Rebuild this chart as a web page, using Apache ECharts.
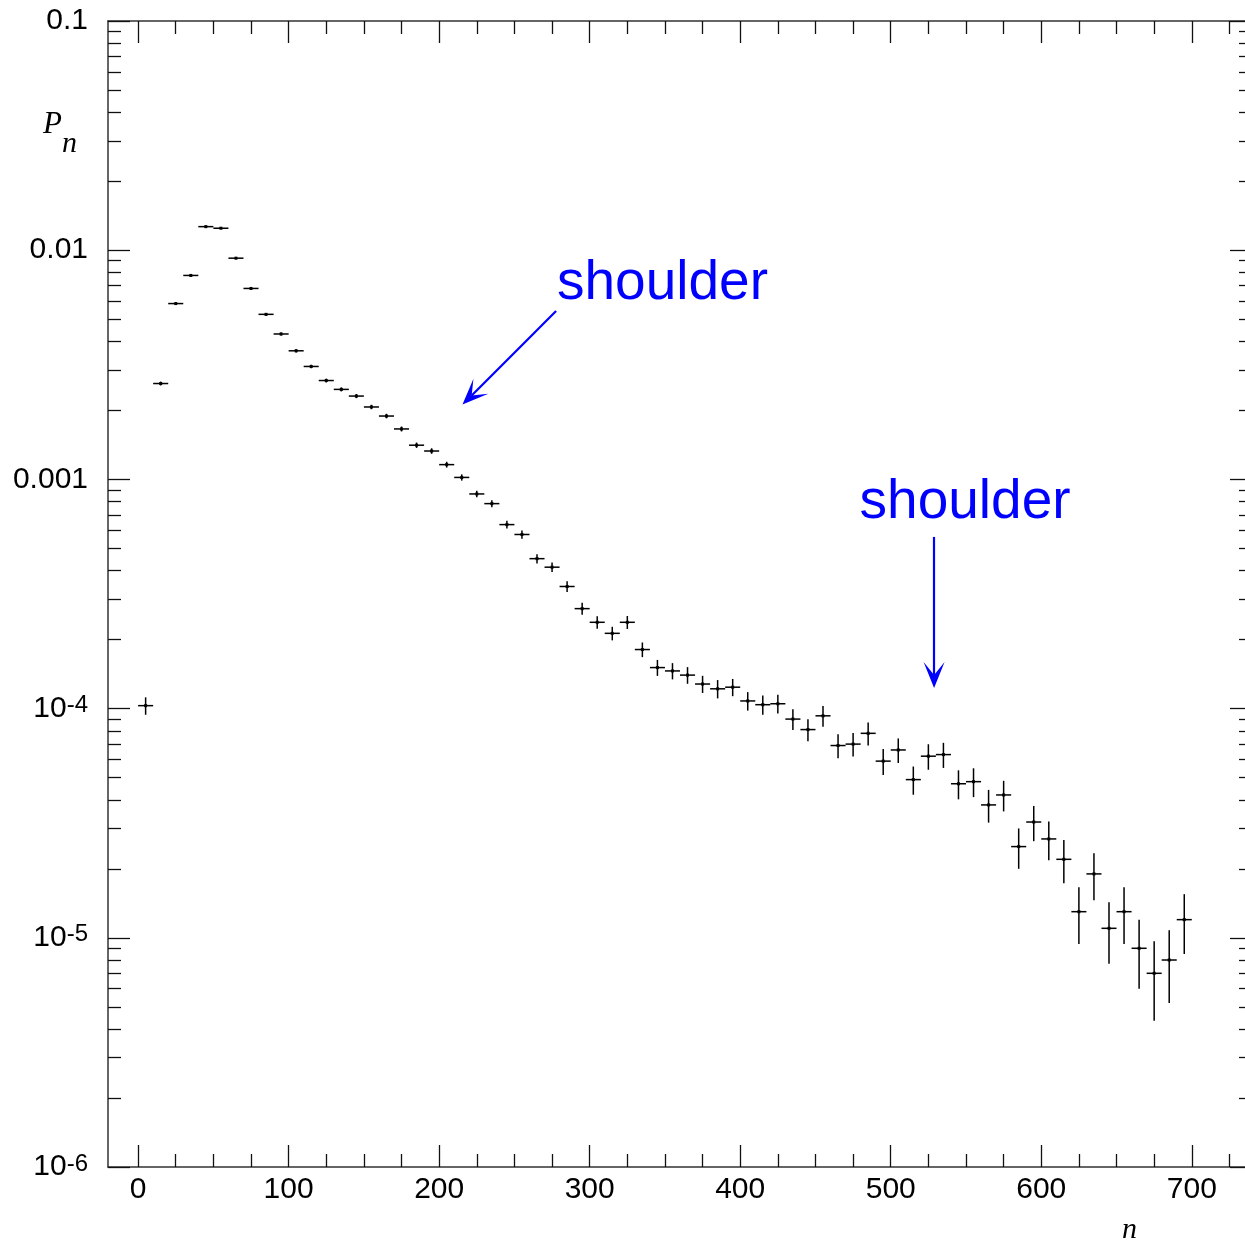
<!DOCTYPE html>
<html>
<head>
<meta charset="utf-8">
<script src="https://cdn.jsdelivr.net/npm/echarts@6/dist/echarts.min.js"></script>
<style>
  html, body { margin: 0; padding: 0; background: #fff; }
  #chart { width: 1245px; height: 1242px; }
</style>
</head>
<body>
<div id="chart"></div>
<script>
// Multiplicity distribution P_n in bins of width 10 (bin centres n).
const binCentres = [
  5, 15, 25, 35, 45, 55, 65, 75, 85, 95,
  105, 115, 125, 135, 145, 155, 165, 175, 185, 195,
  205, 215, 225, 235, 245, 255, 265, 275, 285, 295,
  305, 315, 325, 335, 345, 355, 365, 375, 385, 395,
  405, 415, 425, 435, 445, 455, 465, 475, 485, 495,
  505, 515, 525, 535, 545, 555, 565, 575, 585, 595,
  605, 615, 625, 635, 645, 655, 665, 675, 685, 695
];
const binHalfWidth = 5;

const probability = [
  1.03e-4, 2.62e-3, 5.85e-3, 7.76e-3, 1.267e-2, 1.247e-2, 9.23e-3, 6.81e-3, 5.25e-3, 4.31e-3,
  3.64e-3, 3.11e-3, 2.70e-3, 2.47e-3, 2.31e-3, 2.07e-3, 1.89e-3, 1.66e-3, 1.41e-3, 1.33e-3,
  1.16e-3, 1.02e-3, 8.64e-4, 7.84e-4, 6.35e-4, 5.75e-4, 4.51e-4, 4.14e-4, 3.41e-4, 2.73e-4,
  2.38e-4, 2.13e-4, 2.38e-4, 1.81e-4, 1.51e-4, 1.46e-4, 1.40e-4, 1.28e-4, 1.22e-4, 1.24e-4,
  1.08e-4, 1.04e-4, 1.05e-4, 9.0e-5, 8.1e-5, 9.3e-5, 6.9e-5, 7.0e-5, 7.8e-5, 5.9e-5,
  6.6e-5, 4.9e-5, 6.2e-5, 6.3e-5, 4.7e-5, 4.8e-5, 3.8e-5, 4.2e-5, 2.5e-5, 3.2e-5,
  2.7e-5, 2.2e-5, 1.3e-5, 1.9e-5, 1.1e-5, 1.3e-5, 9.0e-6, 7.0e-6, 8.0e-6, 1.2e-5
];

const probabilityError = [
  9.0e-6, 5.1e-5, 7.6e-5, 8.8e-5, 1.1e-4, 1.1e-4, 9.6e-5, 8.3e-5, 7.2e-5, 6.6e-5,
  6.0e-5, 5.6e-5, 5.2e-5, 5.0e-5, 4.8e-5, 4.6e-5, 4.3e-5, 4.1e-5, 3.8e-5, 3.7e-5,
  3.4e-5, 3.2e-5, 2.9e-5, 2.8e-5, 2.5e-5, 2.4e-5, 2.1e-5, 2.0e-5, 1.8e-5, 1.65e-5,
  1.5e-5, 1.45e-5, 1.55e-5, 1.33e-5, 1.21e-5, 1.19e-5, 1.17e-5, 1.1e-5, 1.12e-5, 1.07e-5,
  1.0e-5, 1.0e-5, 9.8e-6, 9.4e-6, 8.9e-6, 9.7e-6, 8.3e-6, 8.2e-6, 8.9e-6, 7.7e-6,
  8.1e-6, 6.9e-6, 7.9e-6, 7.9e-6, 6.8e-6, 6.9e-6, 6.2e-6, 6.4e-6, 5.0e-6, 5.6e-6,
  5.2e-6, 4.7e-6, 3.6e-6, 4.4e-6, 3.3e-6, 3.6e-6, 3.0e-6, 2.65e-6, 2.8e-6, 3.5e-6
];

// Axis ticks
const xMajorTicks = [0, 100, 200, 300, 400, 500, 600, 700];
const xMinorTicks = [
  25, 50, 75, 125, 150, 175, 225, 250, 275, 325, 350, 375,
  425, 450, 475, 525, 550, 575, 625, 650, 675, 725
];
const yMajorTicks = [1e-6, 1e-5, 1e-4, 1e-3, 1e-2, 1e-1];
const yMinorTicks = [
  2e-6, 3e-6, 4e-6, 5e-6, 6e-6, 7e-6, 8e-6, 9e-6,
  2e-5, 3e-5, 4e-5, 5e-5, 6e-5, 7e-5, 8e-5, 9e-5,
  2e-4, 3e-4, 4e-4, 5e-4, 6e-4, 7e-4, 8e-4, 9e-4,
  2e-3, 3e-3, 4e-3, 5e-3, 6e-3, 7e-3, 8e-3, 9e-3,
  2e-2, 3e-2, 4e-2, 5e-2, 6e-2, 7e-2, 8e-2, 9e-2
];

// Annotations ("shoulder" labels and the arrows pointing at the shoulders), in data coordinates
const shoulderLabels = [
  { text: 'shoulder', at: [278.3, 7.10e-3] },
  { text: 'shoulder', at: [479.3, 7.87e-4] }
];
const shoulderArrows = [
  { from: [277.7, 5.43e-3], to: [221.6, 2.325e-3] },
  { from: [528.8, 5.61e-4], to: [528.8, 1.40e-4] }
];

const X_MIN = -20, X_MAX = 740;
const Y_MIN = 1e-6, Y_MAX = 0.1;
const FONT = '"Liberation Sans", Arial, Helvetica, sans-serif';
const SERIF = '"Liberation Serif", "Times New Roman", serif';

function decadeLabel(v) {
  const e = Math.round(Math.log10(v));
  if (e >= -3) return v.toFixed(-e);
  return '{b|10}{s|' + e + '}';
}

function xAxisDef(position, ticks, len, main, labels) {
  return {
    type: 'value', position, min: X_MIN, max: X_MAX,
    axisLine: { show: main, onZero: false, lineStyle: { color: '#333', width: 1.5 } },
    axisTick: { show: true, inside: true, length: len, customValues: ticks,
                lineStyle: { color: '#111', width: 1.3 } },
    axisLabel: labels ? { show: true, customValues: ticks, margin: 8, color: '#000',
                          fontFamily: FONT, fontSize: 30 } : { show: false },
    splitLine: { show: false }, minorTick: { show: false }
  };
}

function yAxisDef(position, ticks, len, main, labels) {
  return {
    type: 'log', logBase: 10, position, min: Y_MIN, max: Y_MAX,
    axisLine: { show: main, onZero: false, lineStyle: { color: '#333', width: 1.5 } },
    axisTick: { show: true, inside: true, length: len, customValues: ticks,
                lineStyle: { color: '#111', width: 1.3 } },
    axisLabel: labels ? {
      show: true, customValues: ticks, margin: 20, color: '#000',
      fontFamily: FONT, fontSize: 30, formatter: decadeLabel,
      rich: {
        b: { fontFamily: FONT, fontSize: 30, color: '#000' },
        s: { fontFamily: FONT, fontSize: 24, color: '#000', verticalAlign: 'top', lineHeight: 22 }
      }
    } : { show: false },
    splitLine: { show: false }, minorTick: { show: false }
  };
}

const points = binCentres.map((n, i) => [n, probability[i], probabilityError[i]]);

const arrowHead = 'path://M0,0L10,26L0,13L-10,26Z';

const chart = echarts.init(document.getElementById('chart'), null, { renderer: 'canvas' });
chart.setOption({
  backgroundColor: '#fff',
  animation: false,
  grid: { left: 108, top: 21, width: 1144, height: 1146, outerBoundsMode: 'none', containLabel: false },
  xAxis: [
    xAxisDef('bottom', xMajorTicks, 22, true, true),
    xAxisDef('bottom', xMinorTicks, 13, false, false),
    xAxisDef('top', xMajorTicks, 22, true, false),
    xAxisDef('top', xMinorTicks, 13, false, false)
  ],
  yAxis: [
    yAxisDef('left', yMajorTicks, 22, true, true),
    yAxisDef('left', yMinorTicks, 13, false, false),
    yAxisDef('right', yMajorTicks, 22, true, false),
    yAxisDef('right', yMinorTicks, 13, false, false)
  ],
  graphic: [
    { type: 'text', x: 43, y: 125, style: { text: 'P', font: 'italic 31px ' + SERIF, fill: '#000', verticalAlign: 'middle' } },
    { type: 'text', x: 62, y: 144, style: { text: 'n', font: 'italic 30px ' + SERIF, fill: '#000', verticalAlign: 'middle' } },
    { type: 'text', x: 1122, y: 1230, style: { text: 'n', font: 'italic 30px ' + SERIF, fill: '#000', verticalAlign: 'middle' } }
  ],
  series: [
    {
      name: 'P_n',
      type: 'custom',
      xAxisIndex: 0, yAxisIndex: 0,
      data: points,
      encode: { x: 0, y: 1 },
      renderItem(params, api) {
        const n = api.value(0), p = api.value(1), e = api.value(2);
        const c = api.coord([n, p]);
        const l = api.coord([n - binHalfWidth, p]);
        const r = api.coord([n + binHalfWidth, p]);
        const t = api.coord([n, p + e]);
        const b = api.coord([n, p - e]);
        const stroke = { stroke: '#000', lineWidth: 1.5 };
        return {
          type: 'group',
          children: [
            { type: 'line', shape: { x1: l[0], y1: c[1], x2: r[0], y2: c[1] }, style: stroke },
            { type: 'line', shape: { x1: c[0], y1: t[1], x2: c[0], y2: b[1] }, style: stroke },
            { type: 'rect', shape: { x: c[0] - 1.5, y: c[1] - 1.5, width: 3, height: 3 }, style: { fill: '#000' } }
          ]
        };
      }
    },
    {
      name: 'annotations',
      type: 'scatter',
      xAxisIndex: 0, yAxisIndex: 0,
      data: [],
      silent: true,
      itemStyle: { color: '#0000ff' },
      markLine: {
        silent: true,
        animation: false,
        symbol: ['none', arrowHead],
        symbolSize: 24,
        lineStyle: { color: '#0000ff', width: 2.2, type: 'solid' },
        label: { show: false },
        emphasis: { disabled: true },
        data: shoulderArrows.map(a => [
          { coord: a.from },
          { coord: a.to, symbol: arrowHead, symbolSize: [21, 26] }
        ])
      },
      markPoint: {
        silent: true,
        animation: false,
        symbol: 'circle',
        symbolSize: 0,
        itemStyle: { color: 'rgba(0,0,0,0)' },
        label: {
          show: true, position: 'right', distance: 0, formatter: '{b}',
          color: '#0000ff', fontFamily: FONT, fontSize: 55
        },
        data: shoulderLabels.map(s => ({ name: s.text, coord: s.at }))
      }
    }
  ]
});
</script>
</body>
</html>
